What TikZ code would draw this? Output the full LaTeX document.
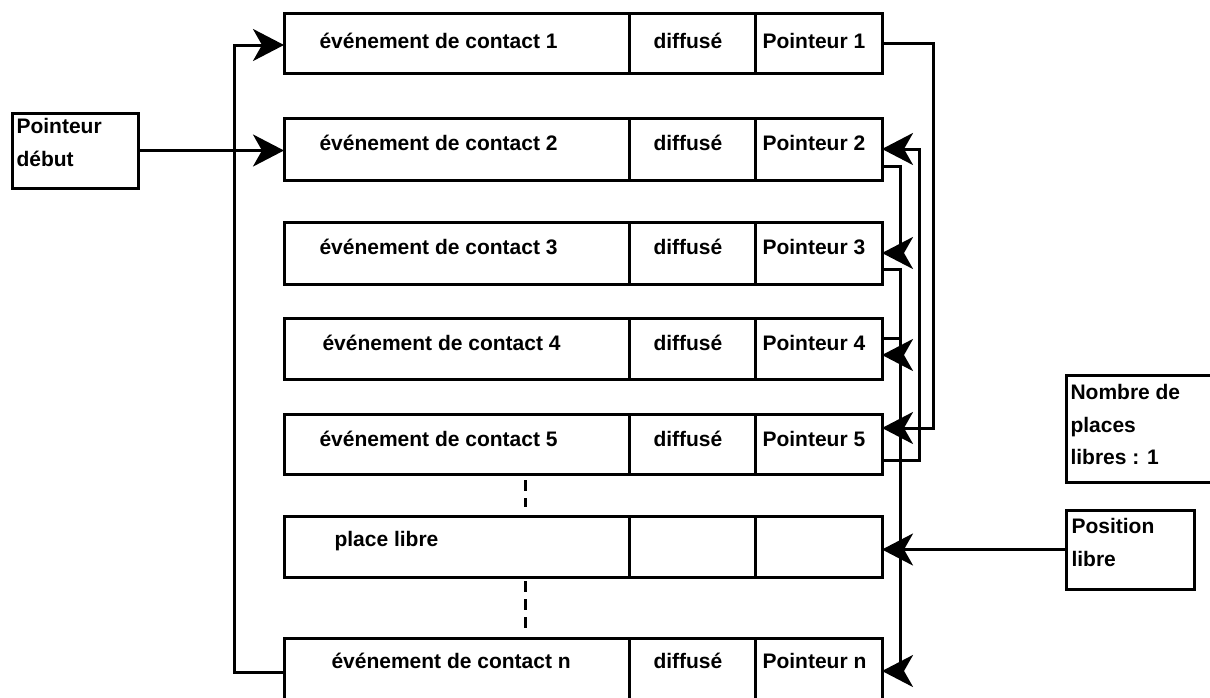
\documentclass[tikz,border=0pt]{standalone}
\usepackage{fontspec}
\setmainfont{Liberation Sans}
\usetikzlibrary{arrows.meta}
\newcommand{\evrow}[8]{% #1 name, #2 top, #3 bottom, #4 event x, #5 event text, #6 diffuse text, #7 pointer text, #8 baseline offset
  \pgfmathsetmacro\evrowc{(#2+#3)/2}%
  \pgfmathsetmacro\evrowh{#3-#2}%
  \pgfmathsetmacro\evrowb{#2+#8}%
  \node[cell, minimum width=345pt, minimum height=\evrowh pt] (a#1) at (456.5,\evrowc) {};
  \node[cell, minimum width=126pt, minimum height=\evrowh pt] (b#1) at (692,\evrowc) {};
  \node[cell, minimum width=127pt, minimum height=\evrowh pt] (c#1) at (818.5,\evrowc) {};
  \node[lbl] (ta#1) at (#4,\evrowb) {#5};
  \node[lbl] (tb#1) at (652,\evrowb) {#6};
  \node[lbl] (tc#1) at (761,\evrowb) {#7};
}
\begin{document}
\begin{tikzpicture}[x=1pt,y=-1pt,
  line width=3pt,
  cell/.style={draw, line width=3pt, rectangle, inner sep=0pt, outer sep=0pt},
  lbl/.style={anchor=base west, inner sep=0pt, font=\bfseries\fontsize{21}{32.5}\selectfont},
  mlbl/.style={anchor=north west, inner sep=0pt, align=left, font=\bfseries\fontsize{21}{32.5}\selectfont},
  conn/.style={draw, line width=3pt},
  arr/.style={conn, -{Stealth[length=31pt,width=32pt,inset=9pt]}},
  dashedline/.style={draw, line width=3pt, dash pattern=on 11pt off 7pt}
]
\useasboundingbox (0,0) rectangle (1210,697);

% rows
\evrow{1}{13}{73}{318}{événement de contact 1}{diffusé}{Pointeur 1}{35}
\evrow{2}{118}{180}{318}{événement de contact 2}{diffusé}{Pointeur 2}{32}
\evrow{3}{222}{284}{318}{événement de contact 3}{diffusé}{Pointeur 3}{32}
\evrow{4}{318}{379}{321}{événement de contact 4}{diffusé}{Pointeur 4}{32}
\evrow{5}{414}{474}{318}{événement de contact 5}{diffusé}{Pointeur 5}{32}
% free place row
\node[cell, minimum width=345pt, minimum height=61pt] (a6) at (456.5,546.5) {};
\node[cell, minimum width=126pt, minimum height=61pt] (b6) at (692,546.5) {};
\node[cell, minimum width=127pt, minimum height=61pt] (c6) at (818.5,546.5) {};
\node[lbl] (ta6) at (333,546) {place libre};
% last row (cut at page bottom)
\evrow{n}{638}{712}{330}{événement de contact n}{diffusé}{Pointeur n}{30}

% side boxes
\node[cell, minimum width=126pt, minimum height=75pt] (start) at (75,150.5) {};
\node[mlbl] (tstart) at (15,117) {Pointeur\\début};
\node[cell, minimum width=154pt, minimum height=107pt] (nb) at (1143,428.5) {};
\node[mlbl] (tnb) at (1069,383) {Nombre de\\places\\libres : 1};
\node[cell, minimum width=128pt, minimum height=79pt] (pos) at (1130,549.5) {};
\node[mlbl] (tpos) at (1070,517) {Position\\libre};

% continuation marks
\draw[dashedline] (525,480) -- (525,507);
\draw[dashedline] (525,581) -- (525,632);

% routing columns
\coordinate (xa) at (933,0);
\coordinate (xb) at (919,0);
\coordinate (xc) at (900,0);
\coordinate (xl) at (234,0);
\coordinate (o2) at ([yshift=-17pt]c2.east);
\coordinate (o3) at ([yshift=-16pt]c3.east);
\coordinate (i4) at ([yshift=-6.5pt]c4.east);
\coordinate (o4) at ([yshift=10.5pt]c4.east);
\coordinate (i5) at ([yshift=16pt]c5.east);
\coordinate (o5) at ([yshift=-16pt]c5.east);
\coordinate (inn) at ([yshift=4pt]cn.east);
\coordinate (on) at ([yshift=3pt]an.west);

% connectors
\draw[arr] (start.east) -- (a2.west |- start.east);
\draw[arr] (on) -- (on -| xl) |- ([yshift=-2pt]a1.west);
\draw[arr] (c1.east) -- (c1.east -| xa) |- (i5);
\draw[arr] (o5) -- (o5 -| xb) |- (c2.east);
\draw[arr] (o2) -- (o2 -| xc) |- (c3.east);
\draw[arr] (o3) -- (o3 -| xc) |- (i4);
\draw[arr] (o4) -- (o4 -| xc) |- (inn);
\draw[arr] (pos.west) -- (c6.east |- pos.west);
\end{tikzpicture}
\end{document}
